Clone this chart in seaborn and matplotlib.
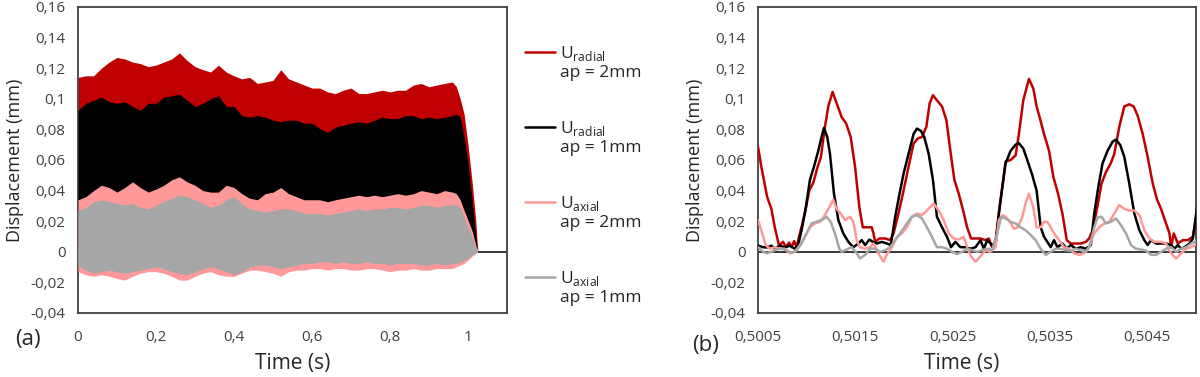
import numpy as np
import pandas as pd
import matplotlib
matplotlib.use("Agg")
import matplotlib.pyplot as plt
from matplotlib.lines import Line2D
from matplotlib.ticker import FuncFormatter
import seaborn as sns

# --- panel (a): envelopes of the full signals ---
env_t = [0.00, 0.02, 0.04, 0.06, 0.08, 0.10, 0.12, 0.14, 0.16, 0.18,
         0.20, 0.22, 0.24, 0.26, 0.28, 0.30, 0.32, 0.34, 0.36, 0.38,
         0.40, 0.42, 0.44, 0.46, 0.48, 0.50, 0.52, 0.54, 0.56, 0.58,
         0.60, 0.62, 0.64, 0.66, 0.68, 0.70, 0.72, 0.74, 0.76, 0.78,
         0.80, 0.82, 0.84, 0.86, 0.88, 0.90, 0.92, 0.94, 0.96,
         0.97, 0.98, 0.99, 1.00, 1.01, 1.02, 1.025]

rad2_hi = [0.114, 0.115, 0.115, 0.120, 0.124, 0.127, 0.126, 0.124, 0.123, 0.121,
           0.122, 0.124, 0.126, 0.130, 0.125, 0.121, 0.119, 0.1175, 0.122, 0.1175,
           0.115, 0.113, 0.114, 0.110, 0.111, 0.112, 0.119, 0.113, 0.111, 0.109,
           0.107, 0.107, 0.1045, 0.1034, 0.1056, 0.107, 0.1034, 0.1034, 0.1045, 0.1056,
           0.1045, 0.1056, 0.1056, 0.109, 0.110, 0.1078, 0.109, 0.110, 0.111,
           0.108, 0.100, 0.090, 0.070, 0.047, 0.020, 0.0]
rad2_lo = 0.003

rad1_hi = [0.0925, 0.097, 0.099, 0.101, 0.098, 0.097, 0.098, 0.095, 0.0925, 0.097,
           0.097, 0.101, 0.102, 0.103, 0.099, 0.095, 0.097, 0.100, 0.102, 0.095,
           0.095, 0.089, 0.088, 0.089, 0.088, 0.086, 0.085, 0.086, 0.086, 0.084,
           0.084, 0.0805, 0.078, 0.0816, 0.0827, 0.084, 0.085, 0.084, 0.086, 0.088,
           0.087, 0.087, 0.089, 0.089, 0.087, 0.088, 0.087, 0.088, 0.089,
           0.090, 0.088, 0.075, 0.058, 0.035, 0.010, 0.0]
rad1_lo = 0.002

ax2_hi = [0.034, 0.036, 0.040, 0.0435, 0.042, 0.039, 0.042, 0.0457, 0.042, 0.039,
          0.041, 0.0435, 0.047, 0.049, 0.0457, 0.0435, 0.040, 0.039, 0.039, 0.0435,
          0.042, 0.038, 0.035, 0.034, 0.038, 0.039, 0.042, 0.038, 0.036, 0.034,
          0.034, 0.034, 0.0327, 0.034, 0.035, 0.036, 0.037, 0.036, 0.037, 0.036,
          0.037, 0.038, 0.037, 0.038, 0.040, 0.039, 0.038, 0.040, 0.039,
          0.038, 0.034, 0.027, 0.0207, 0.014, 0.0044, 0.0]
ax2_lo = [-0.013, -0.015, -0.016, -0.015, -0.016, -0.0174, -0.0185, -0.016, -0.014, -0.013,
          -0.013, -0.014, -0.016, -0.0185, -0.0185, -0.016, -0.014, -0.013, -0.015, -0.016,
          -0.016, -0.014, -0.012, -0.012, -0.013, -0.014, -0.016, -0.013, -0.012, -0.012,
          -0.011, -0.011, -0.012, -0.011, -0.011, -0.012, -0.012, -0.011, -0.011, -0.012,
          -0.013, -0.012, -0.012, -0.011, -0.012, -0.012, -0.011, -0.011, -0.011,
          -0.0098, -0.0087, -0.0076, -0.0054, -0.003, -0.001, 0.0]

ax1_hi = [0.027, 0.029, 0.0327, 0.034, 0.0327, 0.0316, 0.0305, 0.0316, 0.029, 0.028,
          0.0305, 0.0327, 0.035, 0.037, 0.036, 0.034, 0.0316, 0.029, 0.0305, 0.034,
          0.036, 0.0316, 0.028, 0.027, 0.026, 0.027, 0.028, 0.028, 0.027, 0.025,
          0.025, 0.025, 0.024, 0.025, 0.026, 0.027, 0.028, 0.027, 0.028, 0.028,
          0.029, 0.029, 0.028, 0.029, 0.0305, 0.0305, 0.029, 0.0305, 0.0305,
          0.0305, 0.029, 0.0229, 0.016, 0.0098, 0.003, 0.0]
ax1_lo = [-0.0087, -0.012, -0.014, -0.013, -0.012, -0.013, -0.014, -0.013, -0.012, -0.011,
          -0.0098, -0.011, -0.013, -0.014, -0.015, -0.013, -0.011, -0.0098, -0.011, -0.013,
          -0.015, -0.013, -0.0098, -0.0087, -0.0087, -0.0098, -0.011, -0.0098, -0.0087, -0.0076,
          -0.0076, -0.0065, -0.0065, -0.0076, -0.0065, -0.0076, -0.0076, -0.0065, -0.0076, -0.0076,
          -0.0087, -0.0076, -0.0076, -0.0076, -0.0087, -0.0087, -0.0076, -0.0087, -0.0076,
          -0.0076, -0.0065, -0.0054, -0.0044, -0.002, -0.0007, 0.0]

# --- panel (b): zoom 0.5005 - 0.505 s ---
red_t = [0.500500, 0.500534, 0.500593, 0.500637, 0.500672, 0.500716, 0.500758, 0.500785, 0.500820, 0.500844,
         0.500871, 0.500895, 0.500930, 0.500981, 0.501026, 0.501067, 0.501112, 0.501146, 0.501187, 0.501222,
         0.501266, 0.501308, 0.501359, 0.501404, 0.501452, 0.501497, 0.501541, 0.501576, 0.501617, 0.501668,
         0.501686, 0.501703, 0.501747, 0.501806, 0.501857, 0.501892, 0.501943, 0.501995, 0.502046, 0.502098,
         0.502139, 0.502184, 0.502229, 0.502263, 0.502297, 0.502338, 0.502390, 0.502435, 0.502476, 0.502517,
         0.502562, 0.502607, 0.502648, 0.502689, 0.502734, 0.502785, 0.502837, 0.502871, 0.502905, 0.502940,
         0.502974, 0.503009, 0.503043, 0.503095, 0.503146, 0.503180, 0.503225, 0.503283, 0.503328, 0.503362,
         0.503397, 0.503438, 0.503490, 0.503534, 0.503582, 0.503627, 0.503672, 0.503713, 0.503765, 0.503816,
         0.503868, 0.503902, 0.503936, 0.503988, 0.504029, 0.504074, 0.504125, 0.504160, 0.504211, 0.504263,
         0.504314, 0.504359, 0.504400, 0.504452, 0.504503, 0.504555, 0.504600, 0.504641, 0.504692, 0.504727,
         0.504744, 0.504771, 0.504813, 0.504864, 0.504916, 0.504967, 0.505012]
red_v = [0.0686, 0.0555, 0.036, 0.028, 0.016, 0.004, 0.0065, 0.003, 0.006, 0.003,
         0.007, 0.003, 0.012, 0.025, 0.040, 0.045, 0.0555, 0.062, 0.0816, 0.095,
         0.1045, 0.097, 0.088, 0.084, 0.075, 0.0555, 0.029, 0.016, 0.016, 0.016,
         0.012, 0.0065, 0.0087, 0.0087, 0.0076, 0.012, 0.025, 0.040, 0.0555, 0.0707,
         0.074, 0.075, 0.0816, 0.097, 0.1023, 0.099, 0.095, 0.086, 0.066, 0.047,
         0.038, 0.027, 0.016, 0.0087, 0.0087, 0.0087, 0.0076, 0.0087, 0.003, 0.0076,
         0.025, 0.042, 0.059, 0.060, 0.063, 0.077, 0.099, 0.113, 0.1067, 0.095,
         0.087, 0.077, 0.066, 0.049, 0.038, 0.025, 0.0076, 0.0054, 0.0054, 0.0054,
         0.0065, 0.0087, 0.014, 0.030, 0.0446, 0.052, 0.058, 0.064, 0.0816, 0.095,
         0.0964, 0.095, 0.089, 0.077, 0.062, 0.0446, 0.034, 0.028, 0.0185, 0.012,
         0.003, 0.012, 0.0054, 0.0076, 0.0076, 0.0098, 0.025]

black_t = [0.500500, 0.500552, 0.500593, 0.500637, 0.500672, 0.500723, 0.500775, 0.500826, 0.500878, 0.500912,
           0.500947, 0.500991, 0.501033, 0.501074, 0.501119, 0.501153, 0.501177, 0.501211, 0.501239, 0.501280,
           0.501325, 0.501376, 0.501428, 0.501479, 0.501531, 0.501565, 0.501600, 0.501644, 0.501679, 0.501720,
           0.501771, 0.501823, 0.501864, 0.501909, 0.501954, 0.501995, 0.502046, 0.502098, 0.502132, 0.502174,
           0.502208, 0.502253, 0.502297, 0.502338, 0.502390, 0.502441, 0.502483, 0.502527, 0.502579, 0.502631,
           0.502682, 0.502734, 0.502785, 0.502820, 0.502854, 0.502905, 0.502940, 0.502974, 0.503009, 0.503043,
           0.503095, 0.503146, 0.503180, 0.503225, 0.503266, 0.503318, 0.503362, 0.503404, 0.503438, 0.503472,
           0.503507, 0.503541, 0.503576, 0.503627, 0.503672, 0.503713, 0.503765, 0.503816, 0.503868, 0.503919,
           0.503954, 0.503995, 0.504039, 0.504091, 0.504143, 0.504177, 0.504222, 0.504263, 0.504314, 0.504366,
           0.504418, 0.504469, 0.504503, 0.504538, 0.504589, 0.504641, 0.504692, 0.504744, 0.504778, 0.504813,
           0.504847, 0.504881, 0.504933, 0.504967, 0.505012]
black_v = [0.004, 0.003, 0.0028, 0.004, 0.002, 0.004, 0.0028, 0.004, 0.002, 0.0044,
           0.014, 0.029, 0.047, 0.0555, 0.066, 0.075, 0.081, 0.075, 0.064, 0.038,
           0.0207, 0.012, 0.0065, 0.003, 0.0054, 0.0076, 0.0044, 0.008, 0.0065, 0.0054,
           0.0065, 0.0054, 0.0044, 0.0229, 0.038, 0.051, 0.064, 0.077, 0.0805, 0.079,
           0.075, 0.064, 0.047, 0.0229, 0.016, 0.0098, 0.003, 0.0065, 0.003, 0.003,
           0.002, 0.003, 0.0076, 0.002, 0.0076, 0.0044, 0.0044, 0.025, 0.042, 0.0577,
           0.066, 0.070, 0.071, 0.0675, 0.060, 0.050, 0.040, 0.016, 0.0098, 0.0065,
           0.003, 0.0076, 0.003, 0.0054, 0.002, 0.0044, 0.002, 0.003, 0.002, 0.0044,
           0.025, 0.042, 0.0577, 0.066, 0.072, 0.0733, 0.0697, 0.062, 0.0446, 0.025,
           0.014, 0.0076, 0.0044, 0.0076, 0.0054, 0.0054, 0.0054, 0.0044, 0.002, 0.0044,
           0.002, 0.003, 0.0054, 0.0087, 0.030]

pink_t = [0.500500, 0.500534, 0.500579, 0.500620, 0.500672, 0.500723, 0.500775, 0.500826, 0.500878, 0.500930,
          0.500981, 0.501033, 0.501084, 0.501136, 0.501177, 0.501222, 0.501273, 0.501308, 0.501349, 0.501393,
          0.501445, 0.501479, 0.501514, 0.501548, 0.501600, 0.501651, 0.501686, 0.501737, 0.501789, 0.501830,
          0.501875, 0.501926, 0.501978, 0.502029, 0.502081, 0.502132, 0.502184, 0.502235, 0.502304, 0.502356,
          0.502407, 0.502459, 0.502510, 0.502562, 0.502613, 0.502648, 0.502689, 0.502734, 0.502785, 0.502837,
          0.502888, 0.502940, 0.502974, 0.503009, 0.503043, 0.503088, 0.503129, 0.503170, 0.503215, 0.503249,
          0.503283, 0.503328, 0.503362, 0.503404, 0.503438, 0.503472, 0.503507, 0.503541, 0.503593, 0.503644,
          0.503696, 0.503747, 0.503799, 0.503850, 0.503902, 0.503954, 0.504005, 0.504057, 0.504108, 0.504160,
          0.504211, 0.504263, 0.504314, 0.504366, 0.504418, 0.504469, 0.504521, 0.504572, 0.504641, 0.504692,
          0.504744, 0.504795, 0.504847, 0.504899, 0.504950, 0.505012]
pink_v = [0.0207, 0.014, 0.0044, 0.002, 0.003, 0.002, 0.002, -0.001, 0.0, 0.0044,
          0.0098, 0.016, 0.0185, 0.0196, 0.0229, 0.028, 0.034, 0.028, 0.025, 0.0207,
          0.0229, 0.0196, 0.0076, 0.003, 0.002, 0.003, 0.0054, -0.001, -0.0065, -0.001,
          0.003, 0.0098, 0.012, 0.016, 0.0229, 0.025, 0.024, 0.027, 0.0316, 0.027,
          0.0207, 0.012, 0.0087, 0.008, 0.0098, 0.003, -0.003, -0.0065, -0.003, 0.001,
          0.0, 0.003, 0.0207, 0.024, 0.0229, 0.0196, 0.015, 0.016, 0.0229, 0.0316,
          0.038, 0.029, 0.016, 0.016, 0.0196, 0.0196, 0.016, 0.012, 0.0076, 0.003,
          0.002, -0.001, -0.002, -0.001, 0.003, 0.012, 0.016, 0.0185, 0.0196, 0.025,
          0.0305, 0.028, 0.027, 0.027, 0.024, 0.014, 0.0087, 0.0065, 0.0065, 0.0054,
          -0.001, -0.0044, -0.001, 0.002, 0.003, 0.0054]

gray_t = [0.500500, 0.500552, 0.500593, 0.500637, 0.500689, 0.500741, 0.500792, 0.500844, 0.500895, 0.500947,
          0.500998, 0.501050, 0.501101, 0.501153, 0.501204, 0.501246, 0.501290, 0.501335, 0.501359, 0.501411,
          0.501462, 0.501514, 0.501548, 0.501600, 0.501651, 0.501703, 0.501754, 0.501806, 0.501857, 0.501909,
          0.501960, 0.502029, 0.502081, 0.502132, 0.502184, 0.502235, 0.502287, 0.502338, 0.502390, 0.502441,
          0.502493, 0.502545, 0.502596, 0.502648, 0.502699, 0.502751, 0.502802, 0.502854, 0.502905, 0.502957,
          0.502998, 0.503043, 0.503095, 0.503146, 0.503198, 0.503249, 0.503301, 0.503352, 0.503404, 0.503455,
          0.503507, 0.503558, 0.503610, 0.503662, 0.503713, 0.503765, 0.503816, 0.503868, 0.503902, 0.503954,
          0.503988, 0.504029, 0.504074, 0.504125, 0.504177, 0.504229, 0.504280, 0.504332, 0.504383, 0.504435,
          0.504486, 0.504538, 0.504589, 0.504641, 0.504692, 0.504744, 0.504795, 0.504847, 0.504899, 0.504950,
          0.505012]
gray_v = [0.003, 0.0, -0.001, 0.0, 0.0015, 0.002, 0.001, -0.0007, 0.0007, 0.0054,
          0.012, 0.0185, 0.0196, 0.0207, 0.0229, 0.0196, 0.012, 0.002, 0.0, 0.0015,
          0.003, -0.001, -0.0044, -0.002, 0.002, 0.002, 0.0, 0.001, 0.003, 0.0076,
          0.012, 0.0185, 0.0229, 0.024, 0.0218, 0.016, 0.0098, 0.003, 0.003, 0.002,
          0.0, -0.0015, 0.0, 0.002, 0.001, 0.0, 0.001, 0.002, 0.001, 0.012,
          0.0229, 0.0218, 0.0196, 0.0185, 0.016, 0.014, 0.011, 0.0076, 0.002, -0.002,
          0.0, 0.002, 0.002, 0.001, 0.0007, 0.002, 0.001, 0.0, 0.003, 0.016,
          0.0224, 0.0229, 0.0185, 0.0196, 0.0218, 0.0174, 0.012, 0.0044, 0.002, 0.0015,
          0.0007, -0.002, -0.002, 0.0, 0.002, 0.003, 0.0, 0.002, 0.003, 0.0054,
          0.0076]

series_u = ["U$_{\\mathrm{radial}}$", "U$_{\\mathrm{radial}}$", "U$_{\\mathrm{axial}}$", "U$_{\\mathrm{axial}}$"]
series_ap = ["ap = 2mm", "ap = 1mm", "ap = 2mm", "ap = 1mm"]
colors = ["#C00000", "#000000", "#FF9999", "#A6A6A6"]

y_ticks = [-0.04, -0.02, 0, 0.02, 0.04, 0.06, 0.08, 0.10, 0.12, 0.14, 0.16]
xa_ticks = [0, 0.2, 0.4, 0.6, 0.8, 1.0]
xb_ticks = [0.5005, 0.5015, 0.5025, 0.5035, 0.5045]

sns.set_theme(style="white")
plt.rcParams["font.family"] = ["Open Sans", "DejaVu Sans"]
plt.rcParams["mathtext.fontset"] = "custom"
plt.rcParams["mathtext.rm"] = "Open Sans"


def coma(v, pos):
    s = f"{round(v, 6):g}"
    if s == "-0":
        s = "0"
    return s.replace(".", ",")


fig = plt.figure(figsize=(12, 3.77), dpi=100)
axa = fig.add_axes([0.065, 0.1698, 0.3575, 0.8117])
axb = fig.add_axes([0.6317, 0.1698, 0.365, 0.8117])

# (a) bandas
axa.fill_between(env_t, rad2_lo, rad2_hi, color=colors[0], lw=0, zorder=2)
axa.fill_between(env_t, rad1_lo, rad1_hi, color=colors[1], lw=0, zorder=3)
axa.fill_between(env_t, ax2_lo, ax2_hi, color=colors[2], lw=0, zorder=4)
axa.fill_between(env_t, ax1_lo, ax1_hi, color=colors[3], lw=0, zorder=5)
axa.set_xlim(0, 1.1)
axa.set_xticks(xa_ticks)

# (b) lineas
for t, v, c in [(red_t, red_v, colors[0]), (black_t, black_v, colors[1]),
                (pink_t, pink_v, colors[2]), (gray_t, gray_v, colors[3])]:
    sns.lineplot(x=t, y=v, color=c, linewidth=1.8, ax=axb, zorder=3)
axb.set_xlim(0.5005, 0.505)
axb.set_xticks(xb_ticks)

for ax in (axa, axb):
    ax.axhline(0, color="#262626", lw=1.3, zorder=1)
    ax.set_ylim(-0.04, 0.16)
    ax.set_yticks(y_ticks)
    ax.xaxis.set_major_formatter(FuncFormatter(coma))
    ax.yaxis.set_major_formatter(FuncFormatter(coma))
    ax.tick_params(axis="both", length=0, labelsize=11, labelcolor="#404040")
    ax.tick_params(axis="x", pad=12)
    ax.tick_params(axis="y", pad=9)
    for sp in ax.spines.values():
        sp.set_visible(True)
        sp.set_color("#404040")
        sp.set_linewidth(1.3)
    ax.set_xlabel("Time (s)", fontsize=15, color="#262626", labelpad=6)
    ax.set_ylabel("Displacement (mm)", fontsize=13, color="#262626", labelpad=5)
    ax.grid(False)
axb.xaxis.label.set_x(0.466)

# leyenda (entre los dos paneles, linea alineada con la primera linea del texto)
for i, c in enumerate(colors):
    y0 = 52 + 75 * i
    fig.add_artist(Line2D([525 / 1200, 555 / 1200], [1 - y0 / 377, 1 - y0 / 377],
                          color=c, lw=1.8, transform=fig.transFigure))
    fig.text(560 / 1200, 1 - (y0 + 6) / 377, series_u[i], fontsize=12.5,
             va="baseline", color="#262626")
    fig.text(560 / 1200, 1 - (y0 + 25) / 377, series_ap[i], fontsize=12.5,
             va="baseline", color="#262626")

fig.text(0.013, 1 - 340 / 377, "(a)", fontsize=16, va="center", color="#262626")
fig.text(0.577, 1 - 345 / 377, "(b)", fontsize=16, va="center", color="#262626")

fig.savefig("out.png", dpi=100)
